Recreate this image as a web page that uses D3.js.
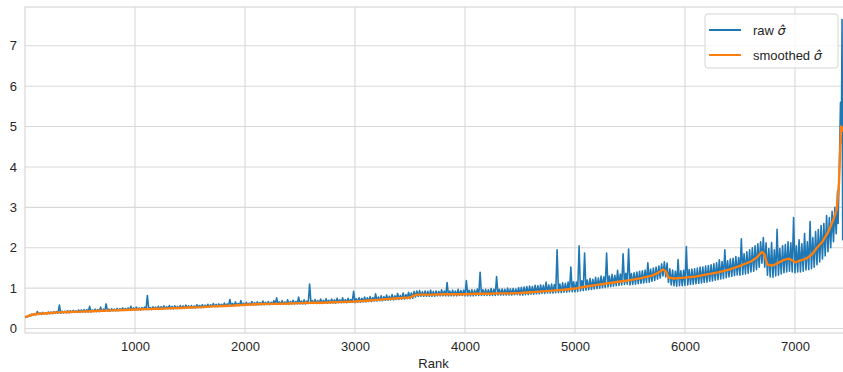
<!DOCTYPE html>
<html lang="en">
<head>
<meta charset="UTF-8">
<title>raw vs smoothed sigma</title>
<script src="https://d3js.org/d3.v7.min.js"></script>
<style>
    body { margin: 0; background: #fff; }
    svg { display: block; font-family: "Liberation Sans", Arial, sans-serif; }
    .tick text { fill: #262626; font-size: 13px; }
    .math { font-family: "DejaVu Sans", sans-serif; font-style: oblique; }
</style>
</head>
<body>
<div id="chart"></div>
<script>
// raw sigma-hat, low and high for every bin of 25 ranks (bin 0 starts at rank 0)
const binSize = 25;
const rawLow = [
    0.27,0.29,0.31,0.33,0.34,0.35,0.35,0.36,0.36,0.37,0.37,0.38,0.38,0.38,0.39,0.39,0.39,0.40,0.40,0.40,
    0.40,0.41,0.41,0.41,0.41,0.42,0.42,0.42,0.43,0.43,0.43,0.43,0.44,0.44,0.44,0.45,0.45,0.45,0.45,0.46,
    0.46,0.46,0.46,0.47,0.47,0.47,0.47,0.48,0.48,0.48,0.48,0.49,0.49,0.49,0.49,0.50,0.50,0.50,0.50,0.51,
    0.51,0.51,0.51,0.52,0.52,0.52,0.53,0.53,0.54,0.54,0.54,0.55,0.55,0.55,0.56,0.56,0.56,0.57,0.57,0.57,
    0.57,0.58,0.58,0.58,0.58,0.59,0.59,0.59,0.59,0.59,0.60,0.60,0.60,0.60,0.60,0.60,0.60,0.61,0.61,0.61,
    0.61,0.61,0.61,0.62,0.62,0.62,0.62,0.62,0.62,0.63,0.63,0.63,0.63,0.63,0.64,0.64,0.64,0.64,0.65,0.65,
    0.64,0.65,0.65,0.66,0.66,0.67,0.67,0.68,0.68,0.69,0.69,0.70,0.70,0.71,0.71,0.72,0.72,0.73,0.73,0.74,
    0.74,0.75,0.78,0.80,0.80,0.80,0.80,0.80,0.80,0.80,0.81,0.81,0.81,0.81,0.81,0.81,0.81,0.81,0.82,0.82,
    0.81,0.81,0.81,0.81,0.82,0.82,0.82,0.82,0.82,0.82,0.82,0.82,0.83,0.83,0.83,0.83,0.83,0.83,0.84,0.84,
    0.83,0.83,0.84,0.84,0.85,0.85,0.86,0.86,0.87,0.87,0.88,0.88,0.88,0.89,0.89,0.89,0.90,0.90,0.91,0.91,
    0.91,0.92,0.93,0.94,0.95,0.96,0.97,0.98,0.99,1.00,1.01,1.02,1.03,1.04,1.05,1.06,1.07,1.08,1.09,1.10,
    1.08,1.09,1.10,1.11,1.12,1.13,1.14,1.15,1.17,1.19,1.22,1.25,1.30,1.28,1.14,1.08,1.06,1.05,1.06,1.06,
    1.07,1.08,1.09,1.10,1.11,1.12,1.13,1.14,1.15,1.17,1.18,1.20,1.21,1.23,1.24,1.26,1.28,1.29,1.31,1.33,
    1.32,1.34,1.35,1.37,1.40,1.42,1.46,1.52,1.62,1.52,1.32,1.28,1.27,1.30,1.32,1.35,1.38,1.40,1.42,1.40,
    1.38,1.40,1.40,1.42,1.45,1.46,1.48,1.52,1.58,1.65,1.72,1.80,1.90,2.00,2.15,2.35
];
const rawHigh = [
    0.30,0.33,0.36,0.37,0.42,0.39,0.40,0.39,0.41,0.41,0.42,0.42,0.58,0.43,0.43,0.44,0.44,0.45,0.44,0.46,
    0.46,0.47,0.47,0.55,0.46,0.48,0.47,0.53,0.48,0.61,0.48,0.49,0.48,0.50,0.49,0.51,0.50,0.51,0.55,0.51,
    0.53,0.51,0.52,0.53,0.82,0.52,0.54,0.53,0.55,0.54,0.56,0.54,0.57,0.55,0.56,0.55,0.57,0.56,0.58,0.56,
    0.57,0.56,0.59,0.57,0.59,0.58,0.60,0.59,0.62,0.60,0.61,0.60,0.63,0.61,0.72,0.62,0.66,0.62,0.69,0.63,
    0.65,0.63,0.67,0.64,0.66,0.64,0.68,0.65,0.67,0.65,0.69,0.76,0.66,0.69,0.66,0.71,0.67,0.70,0.67,0.78,
    0.68,0.71,0.68,1.10,0.69,0.72,0.69,0.73,0.70,0.74,0.70,0.73,0.71,0.75,0.71,0.76,0.72,0.75,0.72,0.92,
    0.74,0.76,0.75,0.78,0.76,0.79,0.77,0.86,0.78,0.81,0.79,0.83,0.80,0.84,0.81,0.87,0.82,0.88,0.84,0.90,
    0.88,0.92,0.93,0.94,0.91,0.93,0.92,0.95,0.92,0.93,0.92,0.96,0.93,1.14,0.93,0.95,0.93,0.97,0.94,0.95,
    1.19,0.95,0.96,0.95,0.98,1.39,0.96,0.97,0.96,0.99,0.97,1.29,0.97,0.98,0.97,1.00,0.98,0.99,0.98,1.01,
    1.02,1.03,1.04,1.05,1.04,1.07,1.06,1.08,1.07,1.15,1.08,1.10,1.09,1.95,1.10,1.13,1.12,1.15,1.52,1.16,
    1.15,2.05,1.18,1.87,1.20,1.24,1.22,1.27,1.25,1.30,1.28,1.87,1.30,1.34,1.32,1.44,1.35,1.85,1.37,1.97,
    1.36,1.38,1.40,1.42,1.43,1.45,1.63,1.47,1.50,1.52,1.55,1.60,1.65,1.62,1.48,1.45,1.42,1.71,1.43,1.44,
    2.03,1.46,1.47,1.48,1.50,1.52,1.52,1.55,1.56,1.58,1.60,1.63,1.70,1.66,1.95,1.68,1.72,1.74,1.78,1.76,
    2.22,1.85,1.90,1.95,2.00,2.05,2.10,2.15,2.25,2.12,1.98,2.13,1.95,2.46,1.98,2.05,2.08,2.15,2.12,2.75,
    2.05,2.20,2.10,2.35,2.15,2.65,2.25,2.40,2.45,2.55,2.60,2.80,2.75,2.90,3.00,3.41
];
// last few ranks, where the curve shoots up
const rawTailRanks = [7392, 7405, 7414, 7422, 7428, 7434, 7442];
const rawTailValues = [2.6, 4.2, 5.6, 4.6, 7.65, 2.2, 6.0];

const smoothRanks = [0,50,100,200,300,400,500,600,700,800,900,1000,1100,1200,1300,1400,1500,1600,1700,1800,
    1900,2000,2100,2200,2300,2400,2500,2600,2700,2800,2900,3000,3100,3200,3300,3400,3500,3560,
    3600,3700,3800,3900,4000,4100,4200,4300,4400,4500,4600,4700,4800,4900,5000,5100,5200,5300,5400,5500,5600,5700,
    5750,5800,5825,5850,5900,6000,6100,6200,6300,6400,6500,6600,6650,6700,6720,6750,6800,6900,6950,7000,
    7100,7150,7200,7250,7300,7350,7380,7400,7410,7420,7430,7440];
const smoothValues = [0.28,0.33,0.36,0.38,0.40,0.41,0.42,0.43,0.44,0.45,0.46,0.47,0.48,0.49,0.50,0.51,0.52,0.53,0.55,0.56,
    0.57,0.59,0.60,0.61,0.61,0.62,0.63,0.64,0.64,0.65,0.66,0.67,0.69,0.71,0.73,0.75,0.77,0.84,
    0.84,0.84,0.85,0.85,0.85,0.86,0.86,0.87,0.87,0.88,0.90,0.92,0.94,0.96,0.99,1.04,1.08,1.12,1.16,1.20,1.25,1.31,
    1.37,1.46,1.42,1.26,1.24,1.26,1.29,1.34,1.39,1.46,1.55,1.66,1.75,1.90,1.85,1.58,1.56,1.70,1.73,1.64,
    1.73,1.82,2.00,2.15,2.38,2.70,2.95,3.60,4.30,5.00,4.90,5.00];

const xTicks = [1000, 2000, 3000, 4000, 5000, 6000, 7000];
const yTicks = [0, 1, 2, 3, 4, 5, 6, 7];
const seriesNames = ["raw", "smoothed"];
const seriesColors = ["#1f77b4", "#ff7f0e"];

const W = 843, H = 372;
const plotL = 25, plotR = 846, plotT = 7, plotB = 333;

// each bin: its low at the bin start, its high half a bin later
const raw = [];
rawLow.forEach((lo, b) => {
    raw.push({rank: b * binSize, v: lo});
    raw.push({rank: b * binSize + binSize / 2, v: rawHigh[b]});
});
rawTailRanks.forEach((r, i) => raw.push({rank: r, v: rawTailValues[i]}));
const smooth = smoothRanks.map((r, i) => ({rank: r, v: smoothValues[i]}));

const svg = d3.select("#chart").append("svg")
    .attr("width", W)
    .attr("height", H);

const x = d3.scaleLinear().domain([0, 7464]).range([plotL, plotR]);
const y = d3.scaleLinear().domain([-0.11, 7.96]).range([plotB, plotT]);

// grid
svg.append("g").selectAll("line").data(xTicks).join("line")
    .attr("x1", d => x(d)).attr("x2", d => x(d))
    .attr("y1", plotT).attr("y2", plotB)
    .attr("stroke", "#d9d9d9").attr("stroke-width", 1.1);
svg.append("g").selectAll("line").data(yTicks).join("line")
    .attr("x1", plotL).attr("x2", plotR)
    .attr("y1", d => y(d)).attr("y2", d => y(d))
    .attr("stroke", "#d9d9d9").attr("stroke-width", 1.1);

// frame
svg.append("rect")
    .attr("x", plotL).attr("y", plotT)
    .attr("width", plotR - plotL).attr("height", plotB - plotT)
    .attr("fill", "none").attr("stroke", "#d4d4d4").attr("stroke-width", 1.1);

// axes (labels only, seaborn whitegrid has no tick marks)
const xAxis = svg.append("g")
    .attr("transform", `translate(0,${plotB})`)
    .call(d3.axisBottom(x).tickValues(xTicks).tickSize(0).tickPadding(9).tickFormat(d3.format("d")));
const yAxis = svg.append("g")
    .attr("transform", `translate(${plotL},0)`)
    .call(d3.axisLeft(y).tickValues(yTicks).tickSize(0).tickPadding(8));
xAxis.select(".domain").remove();
yAxis.select(".domain").remove();

svg.append("text")
    .attr("x", (plotL + plotR) / 2 - 2)
    .attr("y", 368)
    .attr("text-anchor", "middle")
    .attr("fill", "#262626")
    .style("font-size", "13px")
    .text("Rank");

svg.append("clipPath").attr("id", "plot")
    .append("rect").attr("x", plotL).attr("y", plotT)
    .attr("width", plotR - plotL).attr("height", plotB - plotT);

const line = d3.line()
    .x(d => x(d.rank))
    .y(d => y(d.v));

svg.append("path")
    .datum(raw)
    .attr("clip-path", "url(#plot)")
    .attr("fill", "none")
    .attr("stroke", seriesColors[0])
    .attr("stroke-width", 1.6)
    .attr("stroke-linejoin", "round")
    .attr("d", line);

svg.append("path")
    .datum(smooth)
    .attr("clip-path", "url(#plot)")
    .attr("fill", "none")
    .attr("stroke", seriesColors[1])
    .attr("stroke-width", 2.4)
    .attr("stroke-linejoin", "round")
    .attr("d", line);

// legend
const legend = svg.append("g");
legend.append("rect")
    .attr("x", 705).attr("y", 14)
    .attr("width", 133).attr("height", 54)
    .attr("rx", 3)
    .attr("fill", "#fff").attr("fill-opacity", 0.8)
    .attr("stroke", "#d4d4d4");

seriesNames.forEach((name, i) => {
    const ly = 30 + i * 25;
    legend.append("line")
        .attr("x1", 709).attr("x2", 741)
        .attr("y1", ly).attr("y2", ly)
        .attr("stroke", seriesColors[i]).attr("stroke-width", 2);
    const t = legend.append("text")
        .attr("x", 753).attr("y", ly + 5)
        .attr("fill", "#262626")
        .style("font-size", "13px");
    t.append("tspan").text(name + " ");
    t.append("tspan").attr("class", "math").text("\u03c3\u0302");
});
</script>
</body>
</html>
